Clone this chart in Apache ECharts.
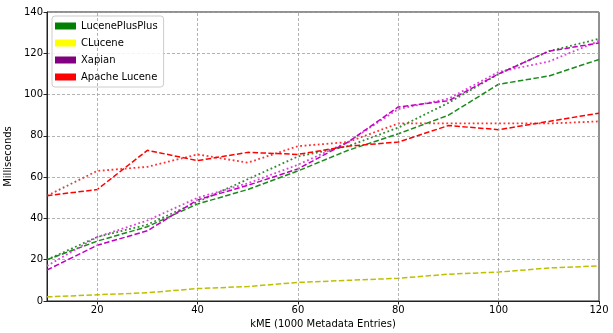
<!DOCTYPE html>
<html>
<head>
<meta charset="utf-8">
<script src="https://cdn.jsdelivr.net/npm/echarts@6/dist/echarts.min.js"></script>
<style>html,body{margin:0;padding:0;background:#fff;}#c{width:613px;height:333px;}</style>
</head>
<body>
<div id="c"></div>
<script>
const xValues = [10,20,30,40,50,60,70,80,90,100,110,120];
const xTickLabels = [20,40,60,80,100,120];
const yTickLabels = [0,20,40,60,80,100,120,140];
const legendNames = ['LucenePlusPlus','CLucene','Xapian','Apache Lucene'];
const lppDashed = [20,29,36,47,54,63,73,81,90,105,109,117];
const lppDotted = [20,31,37,48,59,70,75,84,96,110,121,127];
const clDashed = [2,3,4,6,7,9,10,11,13,14,16,17];
const xapDashed = [15,27,34,49,56,64,77,94,97,110,121,125];
const xapDotted = [17,31,39,50,57,66,77,93,98,111,116,126];
const aplDashed = [51,54,73,68,72,71,75,77,85,83,87,91];
const aplDotted = [51,63,65,71,67,75,77,86,86,86,86,87];

const legendColors = ['#008000','#ffff00','#800080','#ff0000'];
const DASH = [5.5,2.4];
const DOT = [1.8,2.6];
function pairs(arr){ return xValues.map((x,i)=>[x,arr[i]]); }
function lineSeries(name, data, color, dash, w){
  return {name:name, type:'line', data:pairs(data), symbol:'none', z:3,
    lineStyle:{color:color, width:w, type:dash}, itemStyle:{color:color}};
}
const series = [];
legendNames.forEach((n,i)=>series.push({name:n,type:'line',data:[],itemStyle:{color:legendColors[i]},lineStyle:{color:legendColors[i]}}));
series.push({name:'grid', type:'line', data:[], silent:true, z:1,
  markLine:{silent:true, symbol:'none', label:{show:false},
    lineStyle:{color:'#a0a0a0', type:[3,2], width:0.8},
    data: xTickLabels.slice(0,-1).map(v=>({xAxis:v}))}});
series.push(lineSeries('lpp-dotted', lppDotted, '#2e8b2e', DOT, 1.8));
series.push(lineSeries('lpp-dashed', lppDashed, '#1a8a1a', DASH, 1.5));
series.push(lineSeries('cl-dashed', clDashed, '#bfbf00', DASH, 1.5));
series.push(lineSeries('xap-dotted', xapDotted, '#e040e0', DOT, 1.8));
series.push(lineSeries('xap-dashed', xapDashed, '#c000c0', DASH, 1.5));
series.push(lineSeries('apl-dotted', aplDotted, '#ff3030', DOT, 1.8));
series.push(lineSeries('apl-dashed', aplDashed, '#ff0000', DASH, 1.5));

const chart = echarts.init(document.getElementById('c'), null, {renderer:'canvas'});
chart.setOption({
  animation:false,
  backgroundColor:'#fff',
  textStyle:{fontFamily:'DejaVu Sans'},
  grid:{left:47,right:14,top:12,bottom:32,show:true,borderColor:'#222',borderWidth:1,containLabel:false,outerBoundsMode:'none'},
  legend:{data:legendNames, orient:'vertical', left:52, top:16, icon:'rect', itemWidth:21, itemHeight:7, itemGap:7,
    padding:[5,6,5,3], backgroundColor:'rgba(255,255,255,0.85)', borderColor:'#ccc', borderWidth:1, borderRadius:3,
    textStyle:{fontSize:10, color:'#000', fontFamily:'DejaVu Sans'}},
  xAxis:{type:'value', min:10, max:120, interval:10,
    name:'kME (1000 Metadata Entries)', nameLocation:'middle', nameGap:14,
    nameTextStyle:{fontSize:10,color:'#000',fontFamily:'DejaVu Sans'},
    axisLine:{show:true,lineStyle:{color:'#222',width:1}},
    axisTick:{show:true,length:3.5,lineStyle:{color:'#222'},customValues:xTickLabels},
    axisLabel:{fontSize:10,color:'#000',margin:4,customValues:xTickLabels},
    splitLine:{show:false}},
  yAxis:{type:'value', min:0, max:140, interval:20,
    name:'Milliseconds', nameLocation:'middle', nameGap:24,
    nameTextStyle:{fontSize:10,color:'#000',fontFamily:'DejaVu Sans'},
    axisLine:{show:true,lineStyle:{color:'#222',width:1}},
    axisTick:{show:true,length:3.5,lineStyle:{color:'#222'}},
    axisLabel:{fontSize:10,color:'#000',margin:4},
    splitLine:{show:true,lineStyle:{color:'#a0a0a0',type:[3,2],width:0.8}}},
  series:series
});
</script>
</body>
</html>
